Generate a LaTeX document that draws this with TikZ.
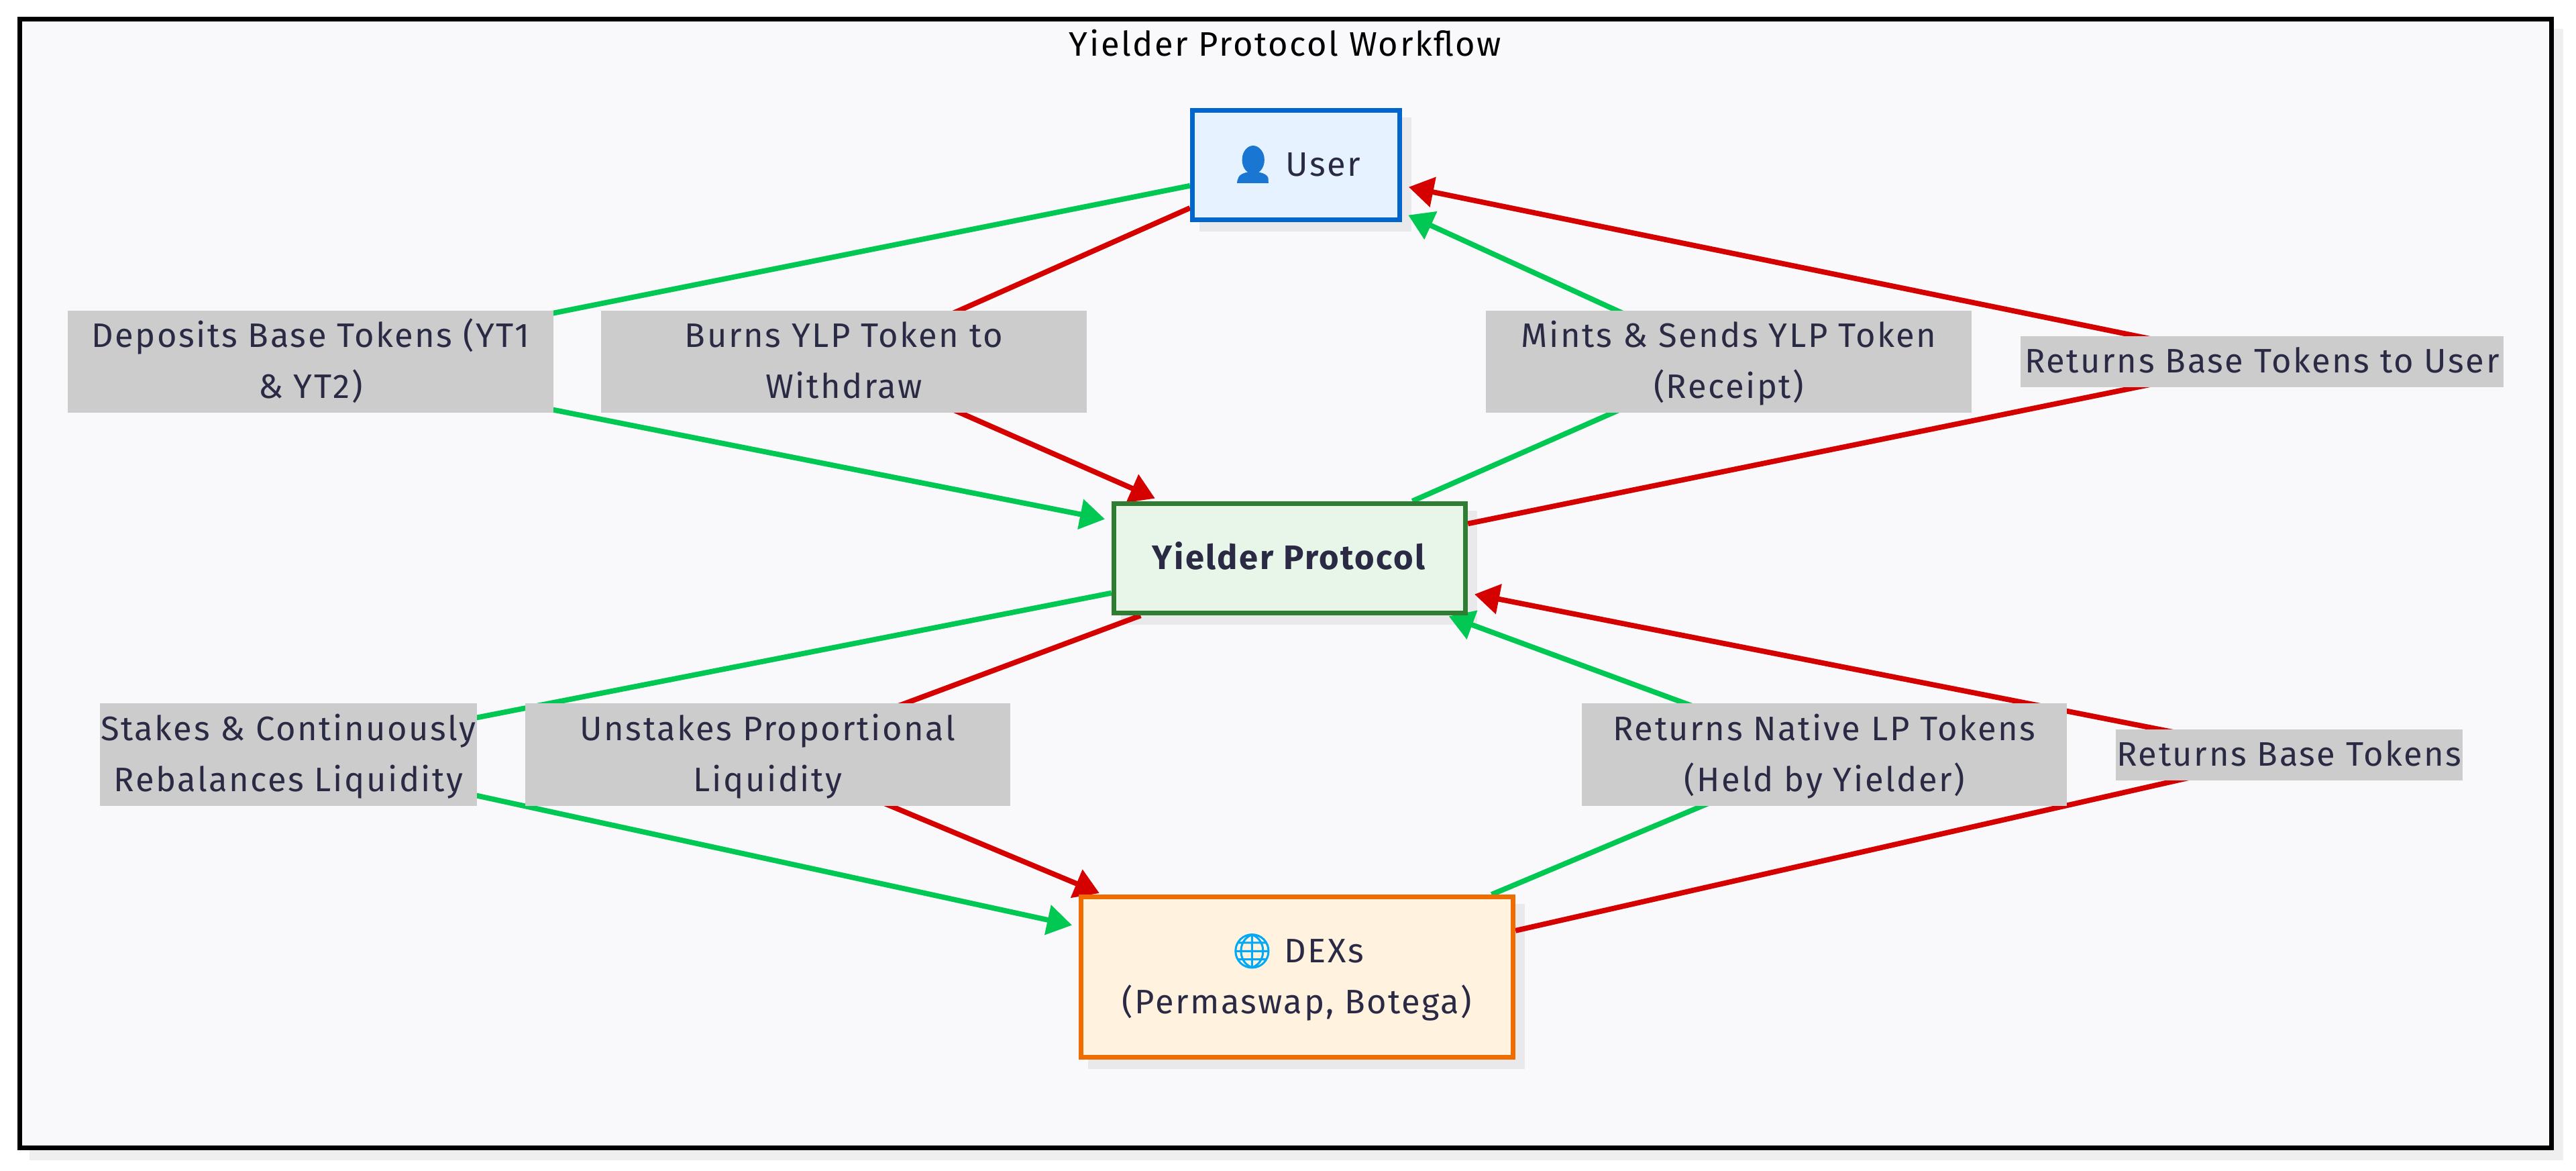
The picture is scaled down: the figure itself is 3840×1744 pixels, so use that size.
\documentclass[tikz,border=0pt]{standalone}
\usepackage{fontspec}
\setmainfont[LetterSpace=5]{Fira Sans}
\newfontfamily\emojifont[FakeBold=2]{Noto Emoji}
\usetikzlibrary{arrows.meta}
\pgfdeclarelayer{bg}
\pgfdeclarelayer{edges}
\pgfsetlayers{bg,edges,main}
\definecolor{inktext}{HTML}{2A2A45}
\definecolor{flowgreen}{HTML}{00C853}
\definecolor{flowred}{HTML}{D50000}
\definecolor{userfill}{HTML}{E6F2FF}
\definecolor{userline}{HTML}{0066CC}
\definecolor{protofill}{HTML}{E8F5E9}
\definecolor{protoline}{HTML}{2E7D32}
\definecolor{dexfill}{HTML}{FFF3E0}
\definecolor{dexline}{HTML}{EF6C00}
\definecolor{panelfill}{HTML}{F9F9FB}
\definecolor{shadowgrey}{HTML}{E9E9EC}
\definecolor{framegrey}{HTML}{EFEFF0}
\definecolor{lblgrey}{HTML}{CCCCCC}
\definecolor{personblue}{HTML}{1976D2}
\definecolor{globeblue}{HTML}{03A9F4}

\begin{document}
\begin{tikzpicture}[x=0.01cm, y=-0.01cm, font=\fontsize{14.4}{21.6}\selectfont,
		oneline/.style = {text height=.41cm, text depth=.09cm},
		twoline/.style = {text height=1.18cm, text depth=.09cm},
		box/.style = {draw, line width=.075cm, align=center, text=inktext, minimum height=1.63cm, oneline},
		lbl/.style = {fill=lblgrey, inner sep=0pt, align=center, text=inktext, minimum width=7.23cm, minimum height=1.52cm, twoline},
		lblone/.style = {lbl, minimum height=.76cm, oneline},
		flow/.style = {line width=.078cm, -{Triangle[length=.37cm,width=.44cm]}, shorten >=.1cm},
		good/.style = {flow, flowgreen},
		bad/.style = {flow, flowred}]
	\useasboundingbox (0,0) rectangle (3840,1744);
	\node[anchor=base, text=black] (title) at (1916,83) {Yielder Protocol Workflow};

	\node[box, draw=userline, fill=userfill, minimum width=3.085cm] (user) at (1932,246) {{\emojifont\textcolor{personblue}{👤}} User};
	\node[box, draw=protoline, fill=protofill, minimum width=5.235cm] (proto) at (1922.5,832) {\textbf{Yielder Protocol}};
	\node[box, twoline, draw=dexline, fill=dexfill, minimum width=6.435cm, minimum height=2.385cm] (dex) at (1933.5,1456) {{\emojifont\textcolor{globeblue}{🌐}} DEXs\\(Permaswap, Botega)};

	\fill[personblue] (1868,237) ellipse (16 and 20);
	\fill[personblue] (1844,273) .. controls (1844,250) and (1891,250) .. (1891,273) -- cycle;

	\node[lbl] (deposit) at (463,539) {Deposits Base Tokens (YT1\\\& YT2)};
	\node[lbl] (burn) at (1258,539) {Burns YLP Token to\\Withdraw};
	\node[lbl] (mint) at (2577,539) {Mints \& Sends YLP Token\\(Receipt)};
	\node[lblone, minimum width=7.20cm] (back) at (3372,539) {Returns Base Tokens to User};
	\node[lbl, minimum width=5.61cm] (stake) at (430,1124.5) {Stakes \& Continuously\\Rebalances Liquidity};
	\node[lbl] (unstake) at (1144.5,1124.5) {Unstakes Proportional\\Liquidity};
	\node[lbl] (native) at (2719.5,1124.5) {Returns Native LP Tokens\\(Held by Yielder)};
	\node[lblone, minimum width=5.17cm] (base) at (3412.5,1125) {Returns Base Tokens};

	\begin{pgfonlayer}{edges}
		\draw[good] (user.191) -- (deposit.center) -- (proto.168.5);
		\draw[bad] (user.202.7) -- (burn.center) -- (proto.156.2);
		\draw[good] (proto.25) -- (mint.center) -- (user.-24.3);
		\draw[bad] (proto.11.3) -- (back.center) -- (user.-11.8);
		\draw[good] (proto.191.1) -- (stake.center) -- (dex.167.6);
		\draw[bad, shorten >=.05cm] (proto.201.2) -- (unstake.center) -- (dex.157.3);
		\draw[good, shorten >=.03cm] (dex.23.3) -- (native.center) -- (proto.-20.1);
		\draw[bad] (dex.12.5) -- (base.center) -- (proto.-11);
	\end{pgfonlayer}

	\begin{pgfonlayer}{bg}
		\fill[framegrey] (44,43) rectangle (3821,1729);
		\draw[black, fill=panelfill, line width=.07cm] (29.5,28.5) rectangle (3803.5,1710.5);
		\foreach \n in {user,proto,dex}
			\fill[shadowgrey] ([shift={(14,14)}]\n.north west) rectangle ([shift={(14,14)}]\n.south east);
	\end{pgfonlayer}
\end{tikzpicture}
\end{document}
